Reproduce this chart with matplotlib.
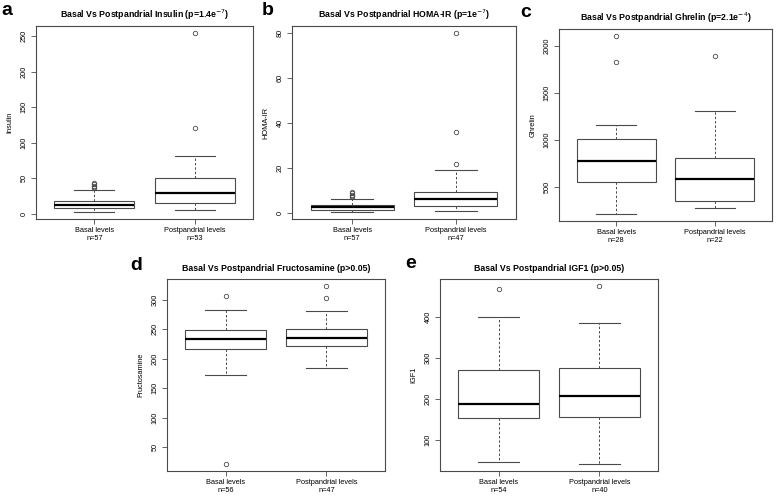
import matplotlib
matplotlib.use('Agg')
import matplotlib.pyplot as plt

plt.rcParams['font.family'] = ['Liberation Sans', 'DejaVu Sans']

W, H = 778, 497

groups = ['Basal levels', 'Postpandrial levels']

# box stats: whislo, q1, med, q3, whishi, fliers
insulin = [(3, 8, 12, 18, 33, [36, 38, 40, 42, 43]),
           (5, 15, 30, 51, 82, [121, 254])]
insulin_n = [57, 53]

homa = [(0.5, 1.5, 2.5, 3.5, 6, [7, 7.5, 8, 9, 9.5]),
        (1, 3, 6, 9.3, 19, [22, 36, 80])]
homa_n = [57, 47]

ghrelin = [(216, 553, 777, 1014, 1160, [1830, 2103]),
           (277, 355, 589, 809, 1309, [1890])]
ghrelin_n = [28, 22]

fructo = [(173, 217, 233, 249, 283.5, [21.6, 305.7]),
          (185, 221.6, 235, 251, 280.7, [303.4, 323.3])]
fructo_n = [56, 47]

igf1 = [(46, 153, 188, 270, 400, [467]),
        (42, 155, 208, 276, 385, [475])]
igf1_n = [54, 40]

panels = [
    ('a', 'Basal Vs Postpandrial Insulin (p=1.4e$^{-7}$)', 'Insulin', insulin, insulin_n,
     (36, 253, 26, 219), (1, 15), [0, 50, 100, 150, 200, 250]),
    ('b', 'Basal Vs Postpandrial HOMA-IR (p=1e$^{-7}$)', 'HOMA-IR', homa, homa_n,
     (292, 516, 26, 219), (262, 15), [0, 20, 40, 60, 80]),
    ('c', 'Basal Vs Postpandrial Ghrelin (p=2.1e$^{-4}$)', 'Ghrelin', ghrelin, ghrelin_n,
     (559, 772, 29, 221), (520, 17), [500, 1000, 1500, 2000]),
    ('d', 'Basal Vs Postpandrial Fructosamine (p>0.05)', 'Fructosamine', fructo, fructo_n,
     (167, 385, 279, 471), (130, 270), [50, 100, 150, 200, 250, 300]),
    ('e', 'Basal Vs Postpandrial IGF1 (p>0.05)', 'IGF1', igf1, igf1_n,
     (440, 658, 279, 471), (405, 268), [100, 200, 300, 400]),
]

fig = plt.figure(figsize=(W / 100, H / 100), dpi=100)
edge = '#4a4a4a'

for letter, title, ylabel, data, ns, box, lpos, yticks in panels:
    l, r, t, b = box
    ax = fig.add_axes([l / W, 1 - b / H, (r - l) / W, (b - t) / H])
    stats = []
    for (lo, q1, med, q3, hi, fl), g, n in zip(data, groups, ns):
        stats.append(dict(whislo=lo, q1=q1, med=med, q3=q3, whishi=hi,
                          fliers=fl, label=f'{g}\nn={n}'))
    ax.bxp(stats, positions=[1, 2], widths=0.8, patch_artist=True,
           boxprops=dict(facecolor='white', edgecolor=edge, linewidth=0.8),
           medianprops=dict(color='black', linewidth=1.6),
           whiskerprops=dict(color=edge, linewidth=0.7, linestyle=(0, (2.5, 2))),
           capprops=dict(color=edge, linewidth=0.8),
           flierprops=dict(marker='o', markersize=3.2, markerfacecolor='none',
                           markeredgecolor=edge, markeredgewidth=0.6),
           capwidths=0.4)
    vals = [v for d in data for v in (d[0], d[4], *d[5])]
    lo, hi = min(vals), max(vals)
    pad = 0.04 * (hi - lo)
    ax.set_ylim(lo - pad, hi + pad)
    ax.set_xlim(0.42, 2.58)
    ax.set_yticks(yticks)
    ax.set_yticklabels([str(v) for v in yticks], rotation=90, va='center')
    ax.tick_params(labelsize=5.3, length=3.5, width=0.6, color=edge, pad=2.5)
    for s in ax.spines.values():
        s.set_color(edge)
        s.set_linewidth(0.8)
    ax.set_ylabel(ylabel, fontsize=5.3, labelpad=5)
    ax.set_title(title, fontsize=6.3, fontweight='bold', pad=5.5)
    fig.text(lpos[0] / W, 1 - lpos[1] / H, letter, fontsize=14, fontweight='bold',
             ha='left', va='baseline')

fig.savefig('out.png', dpi=100)
